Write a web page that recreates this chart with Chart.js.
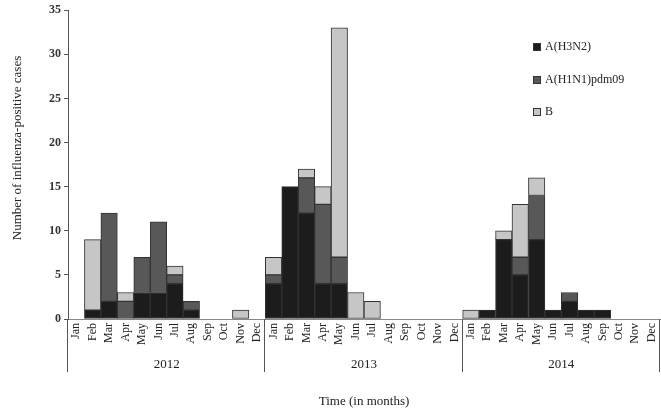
<!DOCTYPE html>
<html>
<head>
<meta charset="utf-8">
<script src="https://cdn.jsdelivr.net/npm/chart.js@4/dist/chart.umd.min.js"></script>
<style>
    body { margin: 0; background: #fff; }
    #wrap { width: 661px; height: 413px; position: relative; }
</style>
</head>
<body>
<div id="wrap"><canvas id="barChart"></canvas></div>
<script>
var years = ['2012', '2013', '2014'];
var months = ['Jan', 'Feb', 'Mar', 'Apr', 'May', 'Jun', 'Jul', 'Aug', 'Sep', 'Oct', 'Nov', 'Dec'];

// cases per month, 2012 -> 2014
var h3n2 = [0, 1, 2, 0, 3, 3, 4, 1, 0, 0, 0, 0,
            4, 15, 12, 4, 4, 0, 0, 0, 0, 0, 0, 0,
            0, 1, 9, 5, 9, 1, 2, 1, 1, 0, 0, 0];
var h1n1 = [0, 0, 10, 2, 4, 8, 1, 1, 0, 0, 0, 0,
            1, 0, 4, 9, 3, 0, 0, 0, 0, 0, 0, 0,
            0, 0, 0, 2, 5, 0, 1, 0, 0, 0, 0, 0];
var fluB = [0, 8, 0, 1, 0, 0, 1, 0, 0, 0, 1, 0,
            2, 0, 1, 2, 26, 3, 2, 0, 0, 0, 0, 0,
            1, 0, 1, 6, 2, 0, 0, 0, 0, 0, 0, 0];

var labels = [];
for (var y = 0; y < years.length; y++) {
    for (var m = 0; m < months.length; m++) {
        labels.push(months[m]);
    }
}

var serif = "'Liberation Serif', 'DejaVu Serif', serif";
Chart.defaults.font.family = serif;
Chart.defaults.color = '#222';

// year labels + separators under the month labels, and the y title
var yearPlugin = {
    id: 'yearRow',
    afterDraw: function (chart) {
        var ctx = chart.ctx;
        var x = chart.scales.x;
        var area = chart.chartArea;
        var bottom = area.bottom;
        var half = (x.getPixelForValue(1) - x.getPixelForValue(0)) / 2;
        ctx.save();
        ctx.strokeStyle = '#555';
        ctx.lineWidth = 1;
        for (var i = 0; i <= years.length; i++) {
            var idx = Math.min(i * 12, labels.length - 1);
            var px = i * 12 < labels.length ? x.getPixelForValue(idx) - half : x.getPixelForValue(idx) + half;
            px = Math.round(px) - 0.5;
            ctx.beginPath();
            ctx.moveTo(px, bottom);
            ctx.lineTo(px, bottom + 53);
            ctx.stroke();
        }
        ctx.fillStyle = '#222';
        ctx.font = '13px ' + serif;
        ctx.textAlign = 'center';
        ctx.textBaseline = 'middle';
        for (var j = 0; j < years.length; j++) {
            var cx = (x.getPixelForValue(j * 12) + x.getPixelForValue(j * 12 + 11)) / 2;
            ctx.fillText(years[j], cx, bottom + 46);
        }
        // y axis title, sits a bit above the middle like the original
        ctx.translate(18, 148);
        ctx.rotate(-Math.PI / 2);
        ctx.fillText('Number of influenza-positive cases', 0, 0);
        ctx.restore();
    }
};

// legend on the right, one item per row
var legendPlugin = {
    id: 'sideLegend',
    afterDraw: function (chart) {
        var ctx = chart.ctx;
        ctx.save();
        ctx.font = '12px ' + serif;
        ctx.textBaseline = 'middle';
        ctx.textAlign = 'left';
        var ys = [47, 80, 112];
        chart.data.datasets.forEach(function (ds, r) {
            ctx.fillStyle = ds.backgroundColor;
            ctx.fillRect(533, ys[r] - 4, 8, 8);
            ctx.strokeStyle = '#333';
            ctx.lineWidth = 1;
            ctx.strokeRect(533.5, ys[r] - 3.5, 7, 7);
            ctx.fillStyle = '#222';
            ctx.fillText(ds.label, 545, ys[r]);
        });
        ctx.restore();
    }
};

var barChartCanvas = document.getElementById('barChart').getContext('2d');

new Chart(barChartCanvas, {
    type: 'bar',
    data: {
        labels: labels,
        datasets: [
            { label: 'A(H3N2)', data: h3n2, backgroundColor: '#1c1c1c' },
            { label: 'A(H1N1)pdm09', data: h1n1, backgroundColor: '#585858' },
            { label: 'B', data: fluB, backgroundColor: '#c6c6c6' }
        ]
    },
    options: {
        responsive: true,
        maintainAspectRatio: false,
        animation: false,
        layout: { padding: { top: 9, right: 1, left: 0, bottom: 0 } },
        datasets: {
            bar: {
                barPercentage: 1,
                categoryPercentage: 1,
                borderWidth: 1,
                borderColor: '#333',
                borderSkipped: false
            }
        },
        plugins: {
            legend: { display: false },
            tooltip: { enabled: false }
        },
        scales: {
            x: {
                stacked: true,
                grid: { display: false, drawTicks: false },
                border: { display: true, color: '#888' },
                ticks: {
                    minRotation: 90,
                    maxRotation: 90,
                    autoSkip: false,
                    padding: 4,
                    font: { size: 12 }
                },
                title: {
                    display: true,
                    text: 'Time (in months)',
                    font: { size: 13 },
                    padding: { top: 0, bottom: 4 }
                },
                afterFit: function (scale) {
                    scale.height = 94;
                    scale.paddingLeft = 0;
                    scale.paddingRight = 0;
                }
            },
            y: {
                stacked: true,
                min: 0,
                max: 35,
                ticks: { stepSize: 5, padding: 3, color: '#333', font: { size: 12, weight: 'bold' } },
                grid: { drawOnChartArea: false, tickLength: 4, color: '#555' },
                border: { display: true, color: '#555' },
                afterFit: function (scale) { scale.width = 68; }
            }
        }
    },
    plugins: [yearPlugin, legendPlugin]
});
</script>
</body>
</html>
